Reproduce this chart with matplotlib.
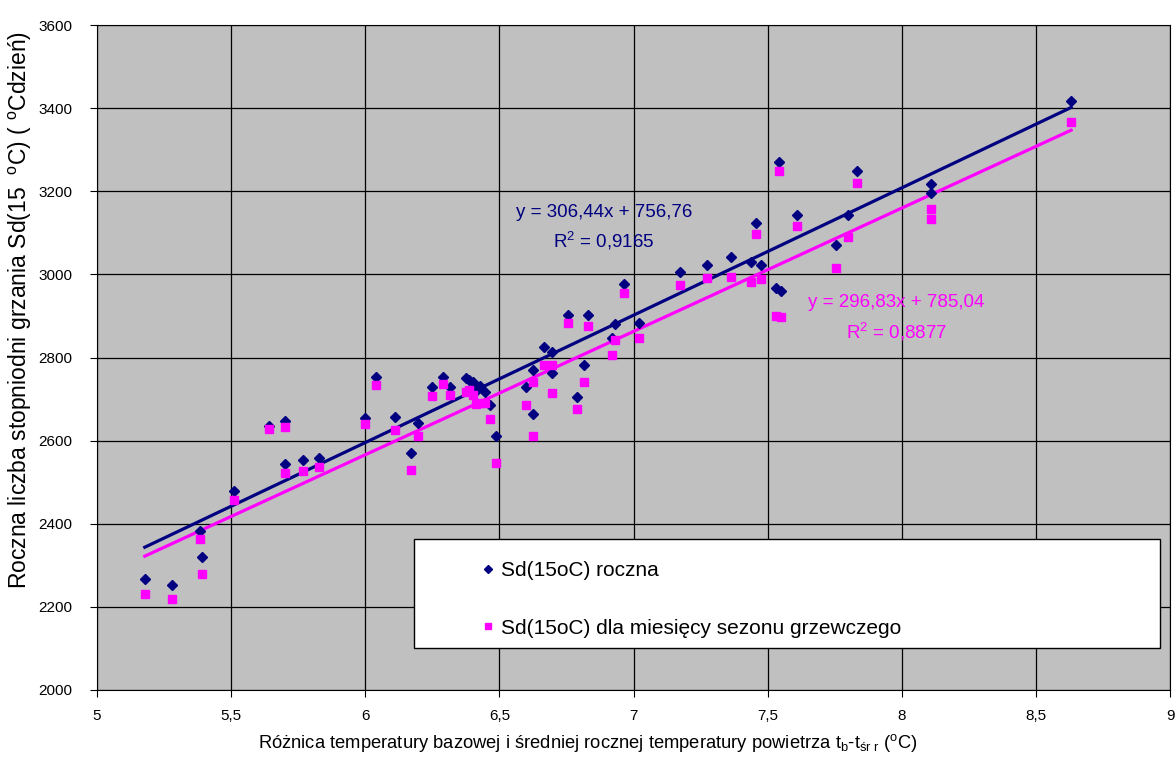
import matplotlib
matplotlib.use("Agg")
import matplotlib.pyplot as plt
from matplotlib import font_manager
from matplotlib.patches import Rectangle
import numpy as np

plt.rcParams['font.family'] = ['Liberation Sans', 'DejaVu Sans']
plt.rcParams['mathtext.fontset'] = 'custom'
plt.rcParams['mathtext.rm'] = 'Liberation Sans'
plt.rcParams['mathtext.it'] = 'Liberation Sans'

names = {f.name for f in font_manager.fontManager.ttflist}
narrow = 'Liberation Sans Narrow' if 'Liberation Sans Narrow' in names else 'Liberation Sans'

# roznica temperatury bazowej i sredniej rocznej (oC)
dt = [5.178, 5.28, 5.384, 5.39, 5.51, 5.64, 5.70, 5.70, 5.767, 5.829,
      5.998, 6.04, 6.11, 6.17, 6.198, 6.247, 6.29, 6.315, 6.374, 6.388,
      6.403, 6.427, 6.411, 6.445, 6.465, 6.488, 6.598, 6.624, 6.624, 6.665,
      6.696, 6.696, 6.755, 6.789, 6.814, 6.831, 6.932, 6.92, 6.966, 7.02,
      7.172, 7.275, 7.363, 7.439, 7.456, 7.474, 7.532, 7.548, 7.542, 7.609,
      7.756, 7.799, 7.833, 8.107, 8.107, 8.631]
# Sd(15oC) roczna
sd_rok = [2266, 2252, 2382, 2320, 2479, 2635, 2648, 2544, 2553, 2558,
          2654, 2752, 2656, 2571, 2643, 2728, 2752, 2730, 2750, 2745,
          2741, 2732, 2719, 2717, 2686, 2611, 2729, 2770, 2664, 2825,
          2813, 2762, 2902, 2705, 2781, 2902, 2880, 2846, 2978, 2883,
          3005, 3022, 3041, 3030, 3123, 3022, 2968, 2961, 3270, 3142,
          3070, 3142, 3248, 3218, 3196, 3418]
# Sd(15oC) dla miesiecy sezonu grzewczego
sd_sez = [2231, 2218, 2363, 2278, 2456, 2628, 2633, 2521, 2526, 2537,
          2639, 2734, 2626, 2530, 2611, 2707, 2737, 2710, 2718, 2722,
          2710, 2690, 2688, 2690, 2652, 2546, 2685, 2742, 2611, 2783,
          2783, 2715, 2884, 2675, 2742, 2876, 2841, 2805, 2955, 2848,
          2974, 2991, 2993, 2982, 3097, 2988, 2900, 2897, 3249, 3116,
          3015, 3089, 3219, 3157, 3134, 3366]

# linie trendu (z wykresu)
a1, b1 = 306.44, 756.76
a2, b2 = 296.83, 785.04

xticks = [5, 5.5, 6, 6.5, 7, 7.5, 8, 8.5, 9]
xlabels = ['5', '5,5', '6', '6,5', '7', '7,5', '8', '8,5', '9']
yticks = list(range(2000, 3601, 200))

navy = '#000080'
pink = '#FF00FF'

fig = plt.figure(figsize=(11.76, 7.61), dpi=100)
ax = fig.add_axes([0.0825, 0.0933, 0.9125, 0.8738])
ax.set_facecolor('#C0C0C0')

xx = np.array([min(dt), max(dt)])
ax.plot(xx, a1 * xx + b1, color=navy, lw=2.3, zorder=3)
ax.plot(xx, a2 * xx + b2, color=pink, lw=2.3, zorder=3)
ax.plot(dt, sd_rok, 'D', color=navy, ms=5, ls='none', zorder=4,
        label='Sd(15oC) roczna')
ax.plot(dt, sd_sez, 's', color=pink, ms=5.5, ls='none', zorder=4,
        label='Sd(15oC) dla miesięcy sezonu grzewczego')

ax.set_xlim(5, 9)
ax.set_ylim(2000, 3600)
ax.set_xticks(xticks)
ax.set_xticklabels(xlabels)
ax.set_yticks(yticks)
ax.grid(True, color='black', lw=0.9)
ax.set_axisbelow(True)
ax.tick_params(axis='x', length=5, pad=9, labelsize=11)
ax.tick_params(axis='y', length=5, pad=13, labelsize=11)
for s in ax.spines.values():
    s.set_color('black')

ax.text(6.89, 3148, 'y = 306,44x + 756,76', color=navy, fontsize=13.5,
        ha='center', va='center')
ax.text(6.89, 3081, 'R$^2$ = 0,9165', color=navy, fontsize=13.5,
        ha='center', va='center')
ax.text(7.98, 2932, 'y = 296,83x + 785,04', color=pink, fontsize=13.5,
        ha='center', va='center')
ax.text(7.98, 2862, 'R$^2$ = 0,8877', color=pink, fontsize=13.5,
        ha='center', va='center')

ax.add_patch(Rectangle((0.2954, 0.063), 0.6953, 0.164, transform=ax.transAxes,
                       facecolor='white', edgecolor='black', lw=1, zorder=5))
leg = ax.legend(loc='upper left', bbox_to_anchor=(0.341, 0.222), frameon=False,
                fontsize=15, labelspacing=1.85, handlelength=0.6,
                handletextpad=0.35, markerscale=0.8)
leg.set_zorder(6)

ax.set_xlabel('Różnica temperatury bazowej i średniej rocznej temperatury powietrza '
              't$_\\mathrm{b}$-t$_\\mathrm{śr\\ r}$ ($^\\mathrm{o}$C)',
              fontsize=13.2, family=narrow)
ax.xaxis.set_label_coords(0.4576, -0.063)
ax.set_ylabel('Roczna liczba stopniodni grzania Sd(15  $^\\mathrm{o}$C) '
              '( $^\\mathrm{o}$Cdzień)', fontsize=16.5, family=narrow)
ax.yaxis.set_label_coords(-0.059, 0.571)

fig.savefig('out.png', dpi=100)
